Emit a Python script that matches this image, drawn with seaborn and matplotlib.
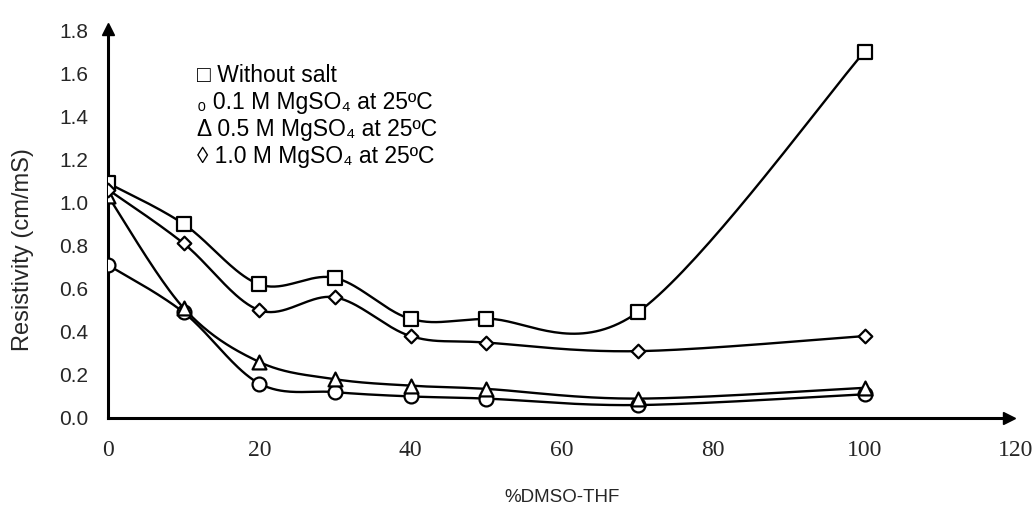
import numpy as np
import pandas as pd
import matplotlib
matplotlib.use("Agg")
import matplotlib.pyplot as plt
import seaborn as sns

# ---------------- data ----------------
dmso = [0, 10, 20, 30, 40, 50, 70, 100]
without_salt = [1.09, 0.90, 0.62, 0.65, 0.46, 0.46, 0.49, 1.70]
mg_01 = [0.71, 0.49, 0.16, 0.12, 0.10, 0.09, 0.06, 0.11]
mg_05 = [1.03, 0.51, 0.26, 0.18, 0.15, 0.135, 0.09, 0.14]
mg_10 = [1.06, 0.81, 0.50, 0.56, 0.38, 0.35, 0.31, 0.38]
series_names = ["Without salt", "0.1 M", "0.5 M", "1.0 M"]
series_values = [without_salt, mg_01, mg_05, mg_10]
series_markers = ["s", "o", "^", "D"]
legend_labels = [
    "\u25a1 Without salt",
    "\u2080 0.1 M MgSO\u2084 at 25\u00baC",
    "\u0394 0.5 M MgSO\u2084 at 25\u00baC",
    "\u25ca 1.0 M MgSO\u2084 at 25\u00baC",
]
xticks = [0, 20, 40, 60, 80, 100, 120]
yticks = [0.0, 0.2, 0.4, 0.6, 0.8, 1.0, 1.2, 1.4, 1.6, 1.8]
x_label = "%DMSO-THF"
y_label = "Resistivity (cm/mS)"


def smooth_curve(x, y, n=40):
    """Excel-like smoothed line (Catmull-Rom as cubic Bezier)."""
    P = np.column_stack([x, y]).astype(float)
    out = []
    for i in range(len(P) - 1):
        p0 = P[max(i - 1, 0)]
        p1 = P[i]
        p2 = P[i + 1]
        p3 = P[min(i + 2, len(P) - 1)]
        c1 = p1 + (p2 - p0) / 6.0
        c2 = p2 - (p3 - p1) / 6.0
        t = np.linspace(0, 1, n)[:, None]
        seg = ((1 - t) ** 3) * p1 + 3 * ((1 - t) ** 2) * t * c1 + 3 * (1 - t) * t ** 2 * c2 + t ** 3 * p2
        if i > 0:
            seg = seg[1:]
        out.append(seg)
    return np.vstack(out)


sns.set_style("white")
plt.rcParams["font.family"] = ["Liberation Sans", "DejaVu Sans"]

fig = plt.figure(figsize=(10.35, 5.13), dpi=100)
ax = fig.add_axes([0.1043, 0.1852, 0.8773, 0.7563])

for name, vals, mk in zip(series_names, series_values, series_markers):
    curve = smooth_curve(dmso, vals)
    cdf = pd.DataFrame({"x": curve[:, 0], "y": curve[:, 1]})
    sns.lineplot(data=cdf, x="x", y="y", sort=False, color="black", lw=1.7, ax=ax, zorder=2)
    pdf = pd.DataFrame({"x": dmso, "y": vals})
    size = {"s": 115, "o": 100, "^": 100, "D": 48}[mk]
    sns.scatterplot(data=pdf, x="x", y="y", marker=mk, s=size, facecolor="white",
                    edgecolor="black", linewidth=1.6, ax=ax, zorder=3)

ax.set_xlim(0, 120)
ax.set_ylim(0, 1.8)
ax.set_xticks(xticks)
ax.set_yticks(yticks)
ax.set_xticklabels([str(v) for v in xticks], fontfamily="Liberation Serif", fontsize=17)
ax.set_yticklabels([f"{v:.1f}" for v in yticks], fontsize=15)
ax.tick_params(axis="both", length=0)
ax.tick_params(axis="x", pad=16)
ax.tick_params(axis="y", pad=14)
ax.set_xlabel(x_label, fontsize=13.5, labelpad=20)
ax.set_ylabel(y_label, fontsize=17)
ax.yaxis.set_label_coords(-0.081, 0.433)

for s in ["top", "right"]:
    ax.spines[s].set_visible(False)
for s in ["left", "bottom"]:
    ax.spines[s].set_linewidth(2.2)
    ax.spines[s].set_color("black")
ax.spines["left"].set_bounds(0, 1.77)
ax.spines["bottom"].set_bounds(0, 118)
ax.plot(1.0 - 0.008, 0, ">", color="black", markersize=9, transform=ax.get_yaxis_transform(), clip_on=False)
ax.plot(0, 1.0 + 0.002, "^", color="black", markersize=9, transform=ax.get_xaxis_transform(), clip_on=False)

for i, lab in enumerate(legend_labels):
    ax.text(0.098, 0.882 - i * 0.0695, lab, transform=ax.transAxes, fontsize=16.5,
            va="center", ha="left", color="black")

fig.savefig("out.png", dpi=100)
